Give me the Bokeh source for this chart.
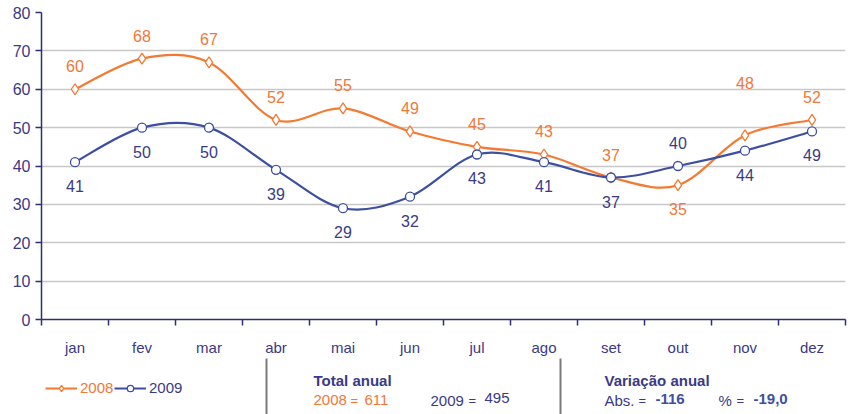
import numpy as np
from bokeh.plotting import figure
from bokeh.layouts import column
from bokeh.models import (Range1d, FixedTicker, Label, Legend, LegendItem,
                          BoxAnnotation, ColumnDataSource)
from bokeh.core.properties import value
from bokeh.embed import file_html
from bokeh.resources import INLINE

# ---------------- data ----------------
months = ["jan", "fev", "mar", "abr", "mai", "jun", "jul", "ago", "set", "out", "nov", "dez"]
v2008 = [60, 68, 67, 52, 55, 49, 45, 43, 37, 35, 48, 52]
v2009 = [41, 50, 50, 39, 29, 32, 43, 41, 37, 40, 44, 49]
y_ticks = [0, 10, 20, 30, 40, 50, 60, 70, 80]
# where each value label sits relative to its point
place2008 = ["above"] * 9 + ["below", "high", "above"]
place2009 = ["below"] * 9 + ["above", "below", "below"]

total08 = sum(v2008)
total09 = sum(v2009)
var_abs = total09 - total08
var_pct = var_abs / total08 * 100

# ---------------- style ----------------
FONT = "Liberation Sans"
ORANGE = "#f47a32"
ORANGE_T = "#f07838"
BLUE = "#3d4fa2"
NAVY = "#3a3a86"
AXIS = "#2e2e78"
GRID = "#c8c8c8"
DY = {"above": -23, "below": 24, "high": -52}
W = 850
LEFT, RIGHT = 41, 845

x = np.arange(len(months)) + 0.5

p = figure(width=W, height=358, output_backend="svg", toolbar_location=None,
           x_range=Range1d(0, 12), y_range=Range1d(0, 80),
           min_border_left=LEFT, min_border_right=W - RIGHT, min_border_top=12,
           min_border_bottom=38)
p.outline_line_color = None

# axes
xa = p.xaxis[0]
xa.ticker = FixedTicker(ticks=list(x), minor_ticks=list(range(13)))
xa.major_label_overrides = {float(xx): m for xx, m in zip(x, months)}
xa.major_tick_out = 0
xa.major_tick_in = 0
xa.minor_tick_out = 6
xa.minor_tick_in = 0
xa.minor_tick_line_color = AXIS
xa.minor_tick_line_width = 1.5
xa.axis_line_color = AXIS
xa.axis_line_width = 1.5
xa.major_label_standoff = 13
xa.major_label_text_font = FONT
xa.major_label_text_font_size = "15px"
xa.major_label_text_color = NAVY

ya = p.yaxis[0]
ya.ticker = FixedTicker(ticks=y_ticks)
ya.minor_tick_line_color = None
ya.major_tick_out = 6
ya.major_tick_in = 0
ya.major_tick_line_color = AXIS
ya.major_tick_line_width = 1.5
ya.axis_line_color = AXIS
ya.axis_line_width = 1.5
ya.major_label_standoff = 5
ya.major_label_text_font = FONT
ya.major_label_text_font_size = "16px"
ya.major_label_text_color = NAVY

p.xgrid.grid_line_color = None
p.ygrid.ticker = FixedTicker(ticks=y_ticks[1:])
p.ygrid.grid_line_color = GRID
p.ygrid.grid_line_width = 1.5


def bezier_source(xs, ys):
    xs = np.asarray(xs, float)
    ys = np.asarray(ys, float)
    px = np.concatenate([[xs[0]], xs, [xs[-1]]])
    py = np.concatenate([[ys[0]], ys, [ys[-1]]])
    d = dict(x0=[], y0=[], x1=[], y1=[], cx0=[], cy0=[], cx1=[], cy1=[])
    for i in range(1, len(px) - 2):
        d["x0"].append(px[i]); d["y0"].append(py[i])
        d["x1"].append(px[i + 1]); d["y1"].append(py[i + 1])
        d["cx0"].append(px[i] + (px[i + 1] - px[i - 1]) / 6)
        d["cy0"].append(py[i] + (py[i + 1] - py[i - 1]) / 6)
        d["cx1"].append(px[i + 1] - (px[i + 2] - px[i]) / 6)
        d["cy1"].append(py[i + 1] - (py[i + 2] - py[i]) / 6)
    return ColumnDataSource(d)


p.bezier("x0", "y0", "x1", "y1", "cx0", "cy0", "cx1", "cy1",
         source=bezier_source(x, v2008), line_color=ORANGE, line_width=2.2,
         line_cap="round")
p.bezier("x0", "y0", "x1", "y1", "cx0", "cy0", "cx1", "cy1",
         source=bezier_source(x, v2009), line_color=BLUE, line_width=2.2,
         line_cap="round")
p.scatter(x, v2008, marker="diamond", size=11, line_color=ORANGE,
          line_width=1.3, fill_color="white")
p.scatter(x, v2009, marker="circle", size=9, line_color=BLUE,
          line_width=1.3, fill_color="white")

src08 = ColumnDataSource(dict(x=x, y=v2008, t=[str(v) for v in v2008],
                              dy=[DY[k] for k in place2008]))
src09 = ColumnDataSource(dict(x=x, y=v2009, t=[str(v) for v in v2009],
                              dy=[DY[k] for k in place2009]))
for src, col in [(src08, ORANGE_T), (src09, NAVY)]:
    p.text("x", "y", text="t", y_offset="dy", source=src, text_align="center",
           text_baseline="middle", text_font=value(FONT), text_font_size="16px",
           text_color=col)

# ---------------- footer (legend + annual totals) ----------------
# footer frame is aligned with the main frame; its data units are page pixels
H2 = 56
q = figure(width=W, height=H2, output_backend="svg", toolbar_location=None,
           x_range=Range1d(LEFT, RIGHT), y_range=Range1d(358 + H2, 358),
           min_border_left=LEFT, min_border_right=W - RIGHT,
           min_border_top=0, min_border_bottom=0,
           x_axis_type=None, y_axis_type=None)
q.outline_line_color = None
q.xgrid.visible = False
q.ygrid.visible = False

# legend proxies (kept outside the visible footer range)
HID_X, HID_Y = [-50, -40], [0, 0]
d08_l = q.line(HID_X, HID_Y, line_color=ORANGE, line_width=2.2)
d08_m = q.scatter(HID_X, HID_Y, marker="diamond", size=12, line_color=ORANGE,
                  line_width=1.3, fill_color="white")
d09_l = q.line(HID_X, HID_Y, line_color=BLUE, line_width=2.2)
d09_m = q.scatter(HID_X, HID_Y, marker="circle", size=10, line_color=BLUE,
                  line_width=1.3, fill_color="white")

for rs, lab_txt, col, loc in [([d08_l, d08_m], "2008", ORANGE_T, (45 - LEFT, 18)),
                              ([d09_l, d09_m], "2009", NAVY, (114 - LEFT, 18))]:
    lg = Legend(items=[LegendItem(label=lab_txt, renderers=rs)], location=loc,
                orientation="horizontal", padding=0, margin=0, spacing=0,
                glyph_width=32, glyph_height=16, label_height=16,
                label_standoff=3, border_line_alpha=0,
                background_fill_alpha=0, label_text_font=FONT,
                label_text_font_size="15px", label_text_color=col)
    q.add_layout(lg, "center")

for sx in [265, 559]:
    q.add_layout(BoxAnnotation(left=sx, right=sx + 2, top=357, bottom=414,
                               fill_color="#7a7a7a", fill_alpha=1,
                               line_alpha=0))


def lab(xx, yy, txt, color=NAVY, size="15px", bold=False):
    q.add_layout(Label(x=xx, y=yy, text=txt, text_color=color,
                       text_font=FONT, text_font_size=size,
                       text_font_style="bold" if bold else "normal",
                       text_align="left", text_baseline="middle"))


lab(313, 380, "Total anual", NAVY, "15px", True)
lab(313, 399, "2008", ORANGE_T)
lab(350, 400, "=", ORANGE_T, "13px")
lab(364, 399, str(total08), ORANGE_T, "15px")
lab(430, 400, "2009", NAVY)
lab(468, 400, "=", NAVY, "13px")
lab(484, 397, str(total09), NAVY, "15px")

lab(604, 380, "Variação anual", NAVY, "15px", True)
lab(604, 400, "Abs.", NAVY)
lab(638, 400, "=", NAVY, "13px")
lab(655, 398, str(var_abs), BLUE, "15px", True)
lab(718, 400, "%", NAVY)
lab(736, 400, "=", NAVY, "13px")
lab(753, 398, f"{var_pct:.1f}".replace(".", ","), BLUE, "15px", True)

layout = column(p, q, spacing=0)
open("out.html", "w").write(file_html(layout, INLINE))
